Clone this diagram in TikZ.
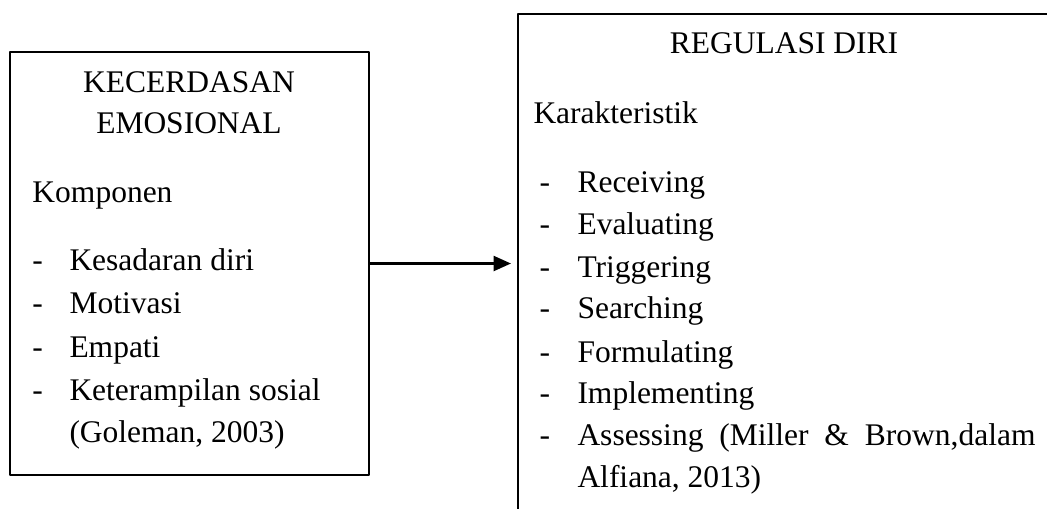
\documentclass[tikz,border=0pt]{standalone}
\usepackage{fontspec}
\setmainfont{Liberation Serif}
\usepackage{pgf,tikz}
\usetikzlibrary{arrows.meta}

\begin{document}
\begin{tikzpicture}[line cap=round,line join=round,>={Triangle[length=7pt,width=6pt]},x=0.4pt,y=-0.4pt,
  font=\fontsize{12.6}{15}\selectfont,
  box/.style={draw,line width=1pt,line cap=rect,minimum width=143.6pt,minimum height=169.2pt,inner sep=0pt},
  txt/.style={anchor=base west,inner sep=0pt},
  head/.style={anchor=base,inner sep=0pt}]
\useasboundingbox (0,0) rectangle (1047,508);
% kotak kiri
\node[box] (kecerdasan) at (189.5,263.5) {};
\node[head] (judulkiri1) at (189,92) {KECERDASAN};
\node[head] (judulkiri2) at (189,133) {EMOSIONAL};
\node[txt] (komponen) at (32,202) {Komponen};
\node[txt] (d1) at (32,270) {-};
\node[txt] (k1) at (69,270) {Kesadaran diri};
\node[txt] (d2) at (32,313) {-};
\node[txt] (k2) at (69,313) {Motivasi};
\node[txt] (d3) at (32,357) {-};
\node[txt] (k3) at (69,357) {Empati};
\node[txt] (d4) at (32,400) {-};
\node[txt] (k4) at (69,400) {Keterampilan sosial};
\node[txt] (k5) at (69,442) {(Goleman, 2003)};
% kotak kanan (terpotong)
\coordinate (kananbawah) at (518,508);
\coordinate (kananatas) at (518,14);
\coordinate (kananujung) at (1047,14);
\draw [line width=1pt,line cap=rect] (kananbawah) -- (kananatas) -- (kananujung);
\node[head] (judulkanan) at (784,53) {REGULASI DIRI};
\node[txt] (karakteristik) at (533,123) {Karakteristik};
\node[txt] (e1) at (539,192) {-};
\node[txt] (r1) at (577,192) {Receiving};
\node[txt] (e2) at (539,234) {-};
\node[txt] (r2) at (577,234) {Evaluating};
\node[txt] (e3) at (539,277) {-};
\node[txt] (r3) at (577,277) {Triggering};
\node[txt] (e4) at (539,318) {-};
\node[txt] (r4) at (577,318) {Searching};
\node[txt] (e5) at (539,362) {-};
\node[txt] (r5) at (577,362) {Formulating};
\node[txt] (e6) at (539,403) {-};
\node[txt] (r6) at (577,403) {Implementing};
\node[txt] (e7) at (539,445) {-};
\node[txt] (r7) at (577,445) {\makebox[183.2pt][s]{Assessing (Miller \& Brown,dalam}};
\node[txt] (r8) at (577,487) {Alfiana, 2013)};
% panah
\coordinate (regulasi) at (511,263.5);
\draw [->,line width=1pt] (kecerdasan.east) -- (regulasi);
\end{tikzpicture}
\end{document}
